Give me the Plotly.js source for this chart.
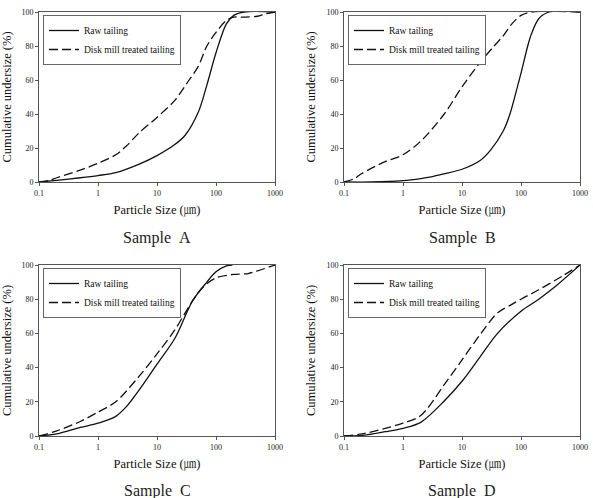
<!DOCTYPE html>
<html>
<head>
<meta charset="utf-8">
<script src="https://cdn.plot.ly/plotly-3.0.1.min.js"></script>
<style>html,body{margin:0;padding:0;background:#fff;}#chart{width:593px;height:498px;}</style>
</head>
<body>
<div id="chart"></div>
<script>
// ---- data ----
const seriesNames = ["Raw tailing", "Disk mill treated tailing"];
const sampleLabels = ["Sample\u00a0\u00a0A", "Sample\u00a0\u00a0B", "Sample\u00a0\u00a0C", "Sample\u00a0\u00a0D"];
const xTickVals = [0.1, 1, 10, 100, 1000];
const xTickText = ["0.1", "1", "10", "100", "1000"];
const yTickVals = [0, 20, 40, 60, 80, 100];

const sizeRawA = [0.1, 0.2, 0.5, 1, 2, 5, 10, 20, 30, 50, 70, 100, 150, 200, 300, 1000];
const undRawA  = [0, 1, 2.5, 3.8, 5.5, 10.5, 15.5, 22, 27.5, 41, 57, 76, 93, 98, 100, 100];
const sizeMillA = [0.1, 0.15, 0.2, 0.5, 1, 2, 3, 5, 10, 20, 35, 50, 70, 100, 150, 200, 300, 500, 700, 1000];
const undMillA  = [0, 1, 2.5, 7, 11, 16, 21, 29, 38, 48, 60, 68, 80, 88, 95, 97, 97, 97.5, 99, 100];

const sizeRawB = [0.1, 0.3, 1, 2, 3, 5, 10, 20, 30, 50, 65, 90, 100, 130, 150, 200, 300, 1000];
const undRawB  = [0, 0, 0.8, 2, 3, 4.8, 7.5, 12.5, 18.5, 30, 40, 58, 64, 80, 87, 96, 100, 100];
const sizeMillB = [0.1, 0.15, 0.2, 0.5, 1, 2, 5, 10, 20, 35, 50, 70, 100, 150, 1000];
const undMillB  = [0, 2, 5, 12, 16, 24, 40, 56, 70, 80, 86, 93, 98, 100, 100];

const sizeRawC = [0.1, 0.2, 0.5, 1, 2, 3, 5, 10, 20, 40, 70, 100, 150, 190];
const undRawC  = [0, 1.2, 5, 7.5, 11.5, 17, 27, 42, 57, 79, 90, 96, 99.5, 100];
const sizeMillC = [0.1, 0.2, 0.5, 1, 2, 5, 10, 20, 40, 60, 100, 200, 350, 500, 1000];
const undMillC  = [0, 3, 8.5, 14, 20, 35, 48, 62, 79, 87, 92.5, 94.5, 95, 96.5, 100];

const sizeRawD = [0.1, 0.2, 0.5, 1, 2, 5, 10, 20, 40, 100, 200, 400, 1000];
const undRawD  = [0, 0.3, 2.5, 4.5, 8, 20.5, 32, 46, 60, 73, 80, 88, 100];
const sizeMillD = [0.1, 0.2, 0.5, 1, 2, 5, 10, 20, 40, 70, 100, 200, 500, 1000];
const undMillD  = [0, 1.2, 4.5, 7.5, 12, 30, 44.5, 59, 72, 77, 80, 85.5, 93.5, 100];

const panels = [
  {raw: [sizeRawA, undRawA], mill: [sizeMillA, undMillA]},
  {raw: [sizeRawB, undRawB], mill: [sizeMillB, undMillB]},
  {raw: [sizeRawC, undRawC], mill: [sizeMillC, undMillC]},
  {raw: [sizeRawD, undRawD], mill: [sizeMillD, undMillD]}
];

// ---- styling ----
const serif = "Liberation Serif, Times New Roman, Noto Serif CJK KR, Noto Sans CJK KR, serif";
const W = 593, H = 498;
const xDom = [[39 / W, 275 / W], [344 / W, 580 / W]];
const yDom = [[1 - 182 / H, 1 - 12 / H], [1 - 436 / H, 1 - 265 / H]];

const traces = [];
const layout = {
  width: W, height: H,
  margin: {l: 0, r: 0, t: 0, b: 0},
  paper_bgcolor: '#fff', plot_bgcolor: '#fff',
  font: {family: serif, color: '#000'},
  annotations: []
};

panels.forEach((p, i) => {
  const col = i % 2, row = Math.floor(i / 2);
  const sfx = i === 0 ? '' : String(i + 1);
  const legName = 'legend' + sfx;
  traces.push({
    x: p.raw[0], y: p.raw[1], type: 'scatter', mode: 'lines', name: seriesNames[0],
    xaxis: 'x' + sfx, yaxis: 'y' + sfx, legend: legName,
    line: {color: '#111', width: 1.3, shape: 'spline', smoothing: 0.9}
  });
  traces.push({
    x: p.mill[0], y: p.mill[1], type: 'scatter', mode: 'lines', name: seriesNames[1],
    xaxis: 'x' + sfx, yaxis: 'y' + sfx, legend: legName,
    line: {color: '#111', width: 1.3, dash: '9px,4px', shape: 'spline', smoothing: 0.9}
  });
  layout['xaxis' + sfx] = {
    type: 'log', range: [-1, 3], domain: xDom[col], anchor: 'y' + sfx,
    showline: true, mirror: true, linecolor: '#555', linewidth: 1,
    ticks: 'outside', ticklen: 3, tickcolor: '#555', tickwidth: 1,
    tickvals: xTickVals, ticktext: xTickText,
    showgrid: false, zeroline: false,
    tickfont: {family: serif, size: 8, color: '#222'},
    title: {text: 'Particle Size (㎛)', font: {family: serif, size: 12.5, color: '#111'}, standoff: 8}
  };
  layout['yaxis' + sfx] = {
    range: [0, 100], domain: yDom[row], anchor: 'x' + sfx,
    showline: true, mirror: true, linecolor: '#555', linewidth: 1,
    ticks: 'outside', ticklen: 3, tickcolor: '#555', tickwidth: 1,
    tickvals: yTickVals,
    showgrid: false, zeroline: false,
    tickfont: {family: serif, size: 8, color: '#222'},
    title: {text: 'Cumulative undersize (%)', font: {family: serif, size: 12.5, color: '#111'}, standoff: 8}
  };
  layout[legName] = {
    x: xDom[col][0] + 4 / W, y: yDom[row][1] - 3 / H, xanchor: 'left', yanchor: 'top',
    bgcolor: '#fff', bordercolor: '#666', borderwidth: 1,
    font: {family: serif, size: 9.5, color: '#111'},
    itemwidth: 30, tracegroupgap: 0
  };
  layout.annotations.push({
    text: sampleLabels[i], xref: 'paper', yref: 'paper',
    x: (xDom[col][0] + xDom[col][1]) / 2, y: row === 0 ? 1 - 238 / H : 1 - 491 / H,
    xanchor: 'center', yanchor: 'middle', showarrow: false,
    font: {family: serif, size: 16, color: '#222'}
  });
});

Plotly.newPlot('chart', traces, layout, {displayModeBar: false, staticPlot: true});
</script>
</body>
</html>
